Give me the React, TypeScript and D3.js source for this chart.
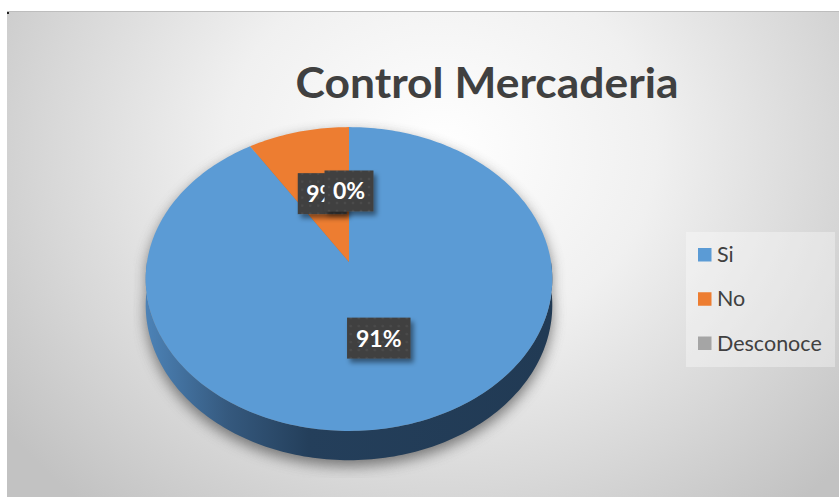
import * as d3 from "d3";
import { useEffect, useRef } from "react";

const W = 839;
const H = 497;

const categories = ["Si", "No", "Desconoce"];
const values = [91, 9, 0];
const labelTexts = ["91%", "9%", "0%"];
const colors = ["#5B9BD5", "#ED7D31", "#A5A5A5"];
const chartTitle = "Control Mercaderia";

// pie geometry (a flat disc seen in perspective)
const cx = 349;
const cy = 262;
const rx = 202;
const ry = 150;
const persp = 0.112;
const depth = 26;

// angle from 12 o'clock clockwise, r in 0..1, dz = drop for the side
const project = (a: number, r: number, dz = 0): [number, number] => {
  const u = Math.sin(a) * r;
  const v = -Math.cos(a) * r;
  const f = 1 / (1 - persp * v);
  return [cx + rx * u * f, cy + ry * v * f + dz * f];
};

const arcPoints = (a0: number, a1: number, r: number, dz = 0) => {
  const n = Math.max(2, Math.ceil(Math.abs(a1 - a0) / 0.02));
  return d3.range(n + 1).map((i) => project(a0 + ((a1 - a0) * i) / n, r, dz));
};

const App = () => {
  const svgRef = useRef<SVGSVGElement>(null);

  useEffect(() => {
    const svg = d3.select(svgRef.current);
    svg.selectAll("*").remove();

    const pie = d3
      .pie<number>()
      .sort(null)
      .startAngle(0)
      .endAngle(2 * Math.PI)
      .value((d) => d);
    const arcs = pie(values);
    const line = d3.line();

    const defs = svg.append("defs");

    const bg = defs
      .append("radialGradient")
      .attr("id", "bg")
      .attr("gradientUnits", "userSpaceOnUse")
      .attr("cx", 440)
      .attr("cy", 150)
      .attr("r", 470)
      .attr("gradientTransform", "translate(440,150) scale(1.15,1) translate(-440,-150)");
    bg.append("stop").attr("offset", 0).attr("stop-color", "#ffffff");
    bg.append("stop").attr("offset", 0.4).attr("stop-color", "#f0f0f0");
    bg.append("stop").attr("offset", 0.72).attr("stop-color", "#d8d8d8");
    bg.append("stop").attr("offset", 1).attr("stop-color", "#c2c2c2");

    const side = defs
      .append("linearGradient")
      .attr("id", "side")
      .attr("gradientUnits", "userSpaceOnUse")
      .attr("x1", cx - rx)
      .attr("x2", cx + rx)
      .attr("y1", 0)
      .attr("y2", 0);
    side.append("stop").attr("offset", 0).attr("stop-color", "#4c82b6");
    side.append("stop").attr("offset", 0.2).attr("stop-color", "#35597e");
    side.append("stop").attr("offset", 0.4).attr("stop-color", "#243f5b");
    side.append("stop").attr("offset", 1).attr("stop-color", "#213a54");

    const blur = defs
      .append("filter")
      .attr("id", "pieShadow")
      .attr("filterUnits", "userSpaceOnUse")
      .attr("x", 133)
      .attr("y", 100)
      .attr("width", 434)
      .attr("height", 372);
    blur.append("feGaussianBlur").attr("stdDeviation", 7);

    const boxShadow = defs
      .append("filter")
      .attr("id", "boxShadow")
      .attr("x", "-30%")
      .attr("y", "-30%")
      .attr("width", "160%")
      .attr("height", "170%");
    boxShadow
      .append("feDropShadow")
      .attr("dx", 3)
      .attr("dy", 4)
      .attr("stdDeviation", 2.5)
      .attr("flood-color", "#000")
      .attr("flood-opacity", 0.45);

    const pattern = defs
      .append("pattern")
      .attr("id", "dots")
      .attr("patternUnits", "userSpaceOnUse")
      .attr("width", 8)
      .attr("height", 8);
    pattern.append("rect").attr("width", 8).attr("height", 8).attr("fill", "#404040");
    pattern.append("circle").attr("cx", 4).attr("cy", 4).attr("r", 1.3).attr("fill", "#4b4b4b");

    // chart area
    svg
      .append("rect")
      .attr("x", 7)
      .attr("y", 11)
      .attr("width", W - 7)
      .attr("height", H - 11)
      .attr("fill", "url(#bg)");
    svg
      .append("line")
      .attr("x1", 7)
      .attr("x2", W)
      .attr("y1", 11.5)
      .attr("y2", 11.5)
      .attr("stroke", "#bdbdbd");
    svg.append("rect").attr("x", 7).attr("y", 12).attr("width", 2).attr("height", 2).attr("fill", "#222");

    // title
    svg
      .append("text")
      .attr("x", 487)
      .attr("y", 98)
      .attr("text-anchor", "middle")
      .attr("font-family", "Lato, 'Open Sans', sans-serif")
      .attr("font-weight", 700)
      .attr("font-size", 42)
      .attr("fill", "#404040")
      .attr("textLength", 383)
      .attr("lengthAdjust", "spacingAndGlyphs")
      .text(chartTitle);

    // silhouette for the shadow
    const outline = [
      ...arcPoints(-Math.PI / 2, Math.PI / 2, 1),
      ...arcPoints(Math.PI / 2, (3 * Math.PI) / 2, 1, depth),
    ];
    svg
      .append("path")
      .attr("d", line(outline) + "Z")
      .attr("transform", "translate(0,6)")
      .attr("fill", "#6a6a6a")
      .attr("opacity", 0.9)
      .attr("filter", "url(#pieShadow)");

    // side wall (front half only)
    const front0 = Math.PI / 2;
    const front1 = (3 * Math.PI) / 2;
    arcs.forEach((d) => {
      const a0 = Math.max(d.startAngle, front0);
      const a1 = Math.min(d.endAngle, front1);
      if (a1 <= a0) return;
      const pts = [...arcPoints(a0, a1, 1), ...arcPoints(a1, a0, 1, depth)];
      svg
        .append("path")
        .attr("d", line(pts) + "Z")
        .attr("fill", d.index === 0 ? "url(#side)" : d3.color(colors[d.index])!.darker(1.2).formatHex());
    });

    // top face
    svg
      .append("g")
      .selectAll("path")
      .data(arcs.filter((d) => d.endAngle > d.startAngle))
      .join("path")
      .attr("d", (d) => line([[cx, cy], ...arcPoints(d.startAngle, d.endAngle, 1)]) + "Z")
      .attr("fill", (d) => colors[d.index]);

    // data labels
    const labels = svg
      .append("g")
      .selectAll("g")
      .data(arcs)
      .join("g")
      .attr("transform", (d) => {
        const [x, y] = project((d.startAngle + d.endAngle) / 2, 0.5);
        return `translate(${x},${y})`;
      });
    labels
      .append("rect")
      .attr("x", (d) => -(labelTexts[d.index].length * 14.5 + 18) / 2 - 1)
      .attr("y", -20.5)
      .attr("width", (d) => labelTexts[d.index].length * 14.5 + 20)
      .attr("height", 41)
      .attr("fill", "url(#dots)")
      .attr("filter", "url(#boxShadow)");
    labels
      .append("text")
      .attr("text-anchor", "middle")
      .attr("y", 8.5)
      .attr("font-family", "Lato, 'Open Sans', sans-serif")
      .attr("font-weight", 700)
      .attr("font-size", 23)
      .attr("fill", "#ffffff")
      .text((d) => labelTexts[d.index]);

    // legend
    svg
      .append("rect")
      .attr("x", 686)
      .attr("y", 232)
      .attr("width", 149)
      .attr("height", 135)
      .attr("fill", "#ffffff")
      .attr("opacity", 0.35);
    const legendY = d3.scalePoint<string>().domain(categories).range([255, 343.5]);
    const items = svg
      .append("g")
      .selectAll("g")
      .data(categories)
      .join("g")
      .attr("transform", (d) => `translate(698,${legendY(d)})`);
    items
      .append("rect")
      .attr("x", 0)
      .attr("y", -7)
      .attr("width", 13.5)
      .attr("height", 13.5)
      .attr("fill", (d, i) => colors[i]);
    items
      .append("text")
      .attr("x", 19)
      .attr("y", 7)
      .attr("font-family", "Lato, 'Open Sans', sans-serif")
      .attr("font-size", 21.5)
      .attr("fill", "#404040")
      .text((d) => d);
  }, []);

  return (
    <svg
      ref={svgRef}
      width={W}
      height={H}
      style={{ position: "absolute", left: 0, top: 0, display: "block" }}
    />
  );
};

export default App;
